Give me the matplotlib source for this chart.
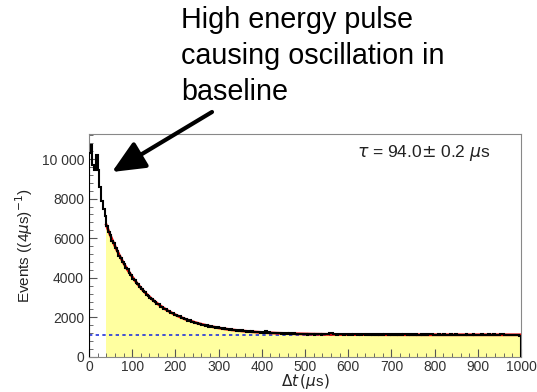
import matplotlib
matplotlib.use('Agg')
import matplotlib.pyplot as plt
import numpy as np
from matplotlib.ticker import MultipleLocator, FuncFormatter

plt.rcParams['font.family'] = ['Liberation Sans', 'DejaVu Sans']
plt.rcParams['mathtext.fontset'] = 'dejavusans'

# histogram: 4 us bins from 0 to 1000 us
bin_width = 4
early_counts = [10300, 10700, 9700, 9450, 10200, 9450, 8600, 7900, 7500, 7100]
decay_counts = [
    6620, 6300, 6150, 5880, 5740, 5490, 5360, 5120, 5010, 4800,
    4700, 4490, 4420, 4230, 4150, 3960, 3900, 3740, 3680, 3520,
    3460, 3330, 3280, 3140, 3100, 2970, 2940, 2830, 2800, 2680,
    2660, 2550, 2530, 2440, 2420, 2320, 2310, 2230, 2220, 2130,
    2140, 2050, 2050, 1970, 1980, 1900, 1910, 1840, 1850, 1780,
    1790, 1720, 1740, 1670, 1690, 1630, 1640, 1580, 1600, 1540,
    1560, 1510, 1530, 1470, 1500, 1440, 1470, 1420, 1440, 1390,
    1420, 1370, 1390, 1340, 1370, 1330, 1350, 1310, 1340, 1290,
    1320, 1280, 1300, 1260, 1290, 1250, 1280, 1240, 1270, 1230,
    1260, 1220, 1330, 1210, 1240, 1200, 1230, 1190, 1220, 1190,
    1210, 1180, 1200, 1180, 1200, 1170, 1190, 1160, 1190, 1160,
    1180, 1160, 1180, 1150, 1170,
]
tail_counts = [
    1150, 1130, 1160, 1140, 1170, 1130, 1150, 1140, 1160, 1130,
    1150, 1170, 1140, 1160, 1220, 1190, 1140, 1150, 1130, 1160,
    1140, 1150, 1130, 1160, 1140, 1120, 1150, 1130, 1160, 1140,
    1130, 1150, 1120, 1140, 1160, 1130, 1150, 1120, 1140, 1130,
    1150, 1130, 1140, 1120, 1160, 1130, 1140, 1150, 1120, 1140,
    1130, 1150, 1120, 1140, 1130, 1150, 1120, 1140, 1160, 1130,
    1140, 1120, 1150, 1130, 1140, 1120, 1130, 1150, 1120, 1140,
    1130, 1150, 1170, 1140, 1120, 1130, 1110, 1140, 1120, 1130,
    1140, 1120, 1130, 1110, 1140, 1120, 1130, 1150, 1120, 1130,
    1110, 1130, 1120, 1140, 1110, 1130, 1120, 1140, 1130, 1110,
    1130, 1120, 1140, 1110, 1130, 1120, 1150, 1130, 1120, 1140,
    1110, 1130, 1120, 1140, 1150, 1120, 1130, 1110, 1130, 1120,
    1100, 1120, 1090, 1110, 1080,
]

# fit parameters
fit_start = 40
fit_amp = 8500
fit_tau = 94.0
fit_base = 1120

counts = np.array(early_counts + decay_counts + tail_counts, dtype=float)
edges = np.arange(len(counts) + 1) * bin_width

fig = plt.figure(figsize=(5.37, 3.92), dpi=100)
ax = fig.add_axes([0.1657, 0.0893, 0.8045, 0.5676])

# yellow fill for fit region
sel = edges[:-1] >= fit_start
ax.stairs(counts[sel], edges[np.r_[sel, True]], fill=True, color='#ffffa0', zorder=1)

ax.axhline(fit_base, color='#2233dd', ls=(0, (2, 2)), lw=1.2, zorder=2)

tt = np.linspace(fit_start, 1000, 400)
ax.plot(tt, fit_amp * np.exp(-tt / fit_tau) + fit_base, color='#dd0000', lw=2.0, zorder=3)

ax.stairs(counts, edges, color='black', lw=1.5, zorder=4)

ax.set_xlim(0, 1000)
ax.set_ylim(0, 11240)

ax.xaxis.set_major_locator(MultipleLocator(100))
ax.xaxis.set_minor_locator(MultipleLocator(20))
ax.yaxis.set_major_locator(MultipleLocator(2000))
ax.yaxis.set_minor_locator(MultipleLocator(400))
ax.yaxis.set_major_formatter(FuncFormatter(lambda v, p: '10 000' if v >= 10000 else '%d' % v))

ax.tick_params(which='both', direction='in', colors='#555555', labelcolor='#333333', labelsize=10)
ax.tick_params(which='major', length=6)
ax.tick_params(which='minor', length=3)
ax.tick_params(axis='x', pad=2)
for sp in ax.spines.values():
    sp.set_color('#888888')

ax.set_ylabel(r'Events ((4$\mu$s)$^{-1}$)', fontsize=11, color='#222222', labelpad=5)
ax.set_xlabel(r'$\Delta t\,(\mu$s$)$', fontsize=11, color='#222222', labelpad=-1)

ax.text(620, 10300, r'$\tau$ = 94.0$\pm$ 0.2 $\mu$s', fontsize=12.5, color='#222222', va='center')

fig.text(181 / 537, 1 - 6 / 392, 'High energy pulse\ncausing oscillation in\nbaseline',
         fontsize=20.7, va='top', ha='left', linespacing=1.36)

ax.annotate('', xy=(112, 392 - 172), xycoords='figure pixels',
            xytext=(212, 392 - 112), textcoords='figure pixels',
            arrowprops=dict(arrowstyle='-|>,head_length=1.0,head_width=0.45',
                            lw=3, color='black', mutation_scale=20,
                            shrinkA=0, shrinkB=0))

fig.savefig('out.png', dpi=100)
